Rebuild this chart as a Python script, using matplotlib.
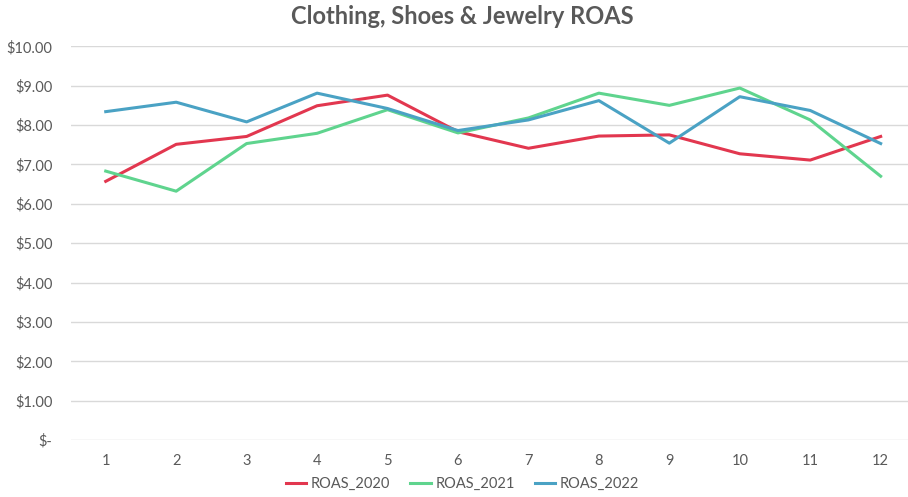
import matplotlib
matplotlib.use("Agg")
import matplotlib.pyplot as plt
from matplotlib.ticker import FuncFormatter

months = list(range(1, 13))
roas_2020 = [6.57, 7.51, 7.71, 8.49, 8.76, 7.83, 7.41, 7.72, 7.75, 7.27, 7.11, 7.71]
roas_2021 = [6.83, 6.32, 7.53, 7.79, 8.39, 7.80, 8.18, 8.81, 8.50, 8.94, 8.13, 6.70]
roas_2022 = [8.34, 8.58, 8.08, 8.81, 8.42, 7.86, 8.13, 8.62, 7.54, 8.72, 8.37, 7.53]

series = [("ROAS_2020", roas_2020, "#E2374F"),
          ("ROAS_2021", roas_2021, "#5FD48E"),
          ("ROAS_2022", roas_2022, "#4AA2C4")]

plt.rcParams['font.family'] = ['Lato', 'DejaVu Sans']
grey = "#595959"

fig = plt.figure(figsize=(9.08, 4.97), dpi=100)
ax = fig.add_axes([70.5/908, 57/497, 1 - 70.5/908, (440 - 46.3)/497])

for name, vals, col in series:
    ax.plot(months, vals, color=col, lw=2.2, label=name, solid_joinstyle='round')

def money(v, pos):
    if abs(v) < 1e-9:
        return "$-"
    return "${:.2f}".format(v)

ax.set_ylim(0, 10)
ax.set_yticks(range(0, 11))
ax.yaxis.set_major_formatter(FuncFormatter(money))
ax.set_xlim(0.5, 0.5 + (908 - 70.5)/70.45)
ax.set_xticks(months)

ax.grid(axis='y', color="#D9D9D9", lw=1)
ax.set_axisbelow(True)
for s in ax.spines.values():
    s.set_visible(False)
ax.tick_params(length=0, labelsize=10.5, colors=grey, pad=10)
ax.tick_params(axis='y', pad=13)

fig.text(0.509, 0.966, "Clothing, Shoes & Jewelry ROAS", ha='center', va='center',
         fontsize=17, fontweight='bold', color=grey)

ax.legend(loc='center', bbox_to_anchor=(0.468, -0.112), ncol=3,
          frameon=False, fontsize=10.5, handlelength=1.4, handletextpad=0.3,
          columnspacing=1.4, labelcolor=grey, bbox_transform=ax.transAxes)

fig.savefig("out.png", dpi=100)
